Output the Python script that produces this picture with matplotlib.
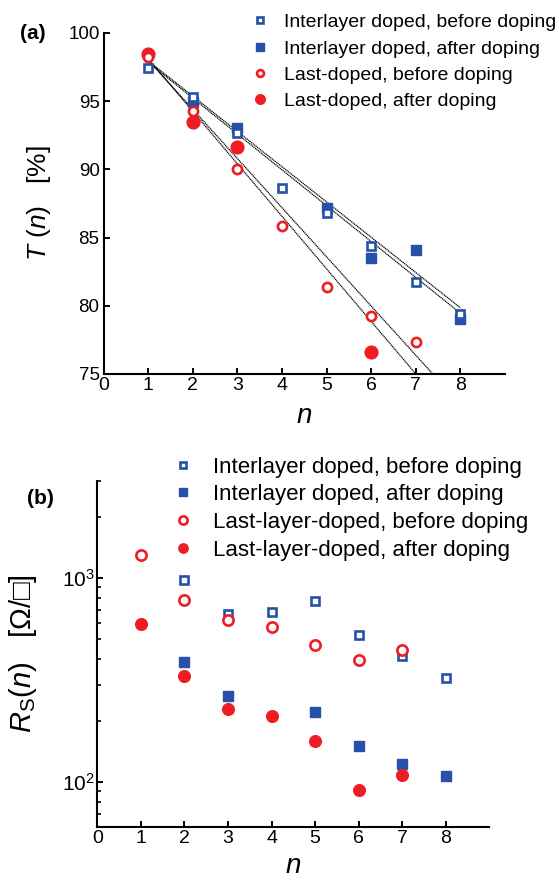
import matplotlib
matplotlib.use('Agg')
import matplotlib.pyplot as plt
from matplotlib.ticker import LogLocator, NullFormatter, FixedLocator

plt.rcParams['font.family'] = ['Liberation Sans', 'DejaVu Sans']
plt.rcParams['mathtext.fontset'] = 'custom'
plt.rcParams['mathtext.rm'] = 'Liberation Sans'
plt.rcParams['mathtext.it'] = 'Liberation Sans:italic'

BLUE = '#2750a8'
RED = '#ee1d23'

# (a) transmittance T(n) [%]
n_il_before = [1, 2, 3, 4, 5, 6, 7, 8]
T_il_before = [97.41, 95.30, 92.65, 88.66, 86.78, 84.38, 81.74, 79.38]
n_il_after = [2, 3, 5, 6, 7, 8]
T_il_after = [94.93, 93.03, 87.17, 83.48, 84.09, 79.03]
n_ll_before = [1, 2, 3, 4, 5, 6, 7]
T_ll_before = [98.22, 94.28, 90.0, 85.87, 81.4, 79.25, 77.37]
n_ll_after = [1, 2, 3, 6]
T_ll_after = [98.44, 93.48, 91.62, 76.59]

# fit lines (endpoints)
fit_il_x = [1, 8]
fit_il_upper = [97.95, 79.85]
fit_il_lower = [97.85, 79.45]
fit_ll_x1 = [1, 7.0]
fit_ll_y1 = [98.1, 75.0]
fit_ll_x2 = [1, 7.38]
fit_ll_y2 = [98.0, 75.0]

# (b) sheet resistance Rs(n) [Ohm/sq]
n_rs_il_before = [2, 3, 4, 5, 6, 7, 8]
rs_il_before = [976, 669, 679, 768, 523, 414, 325]
n_rs_il_after = [2, 3, 5, 6, 7, 8]
rs_il_after = [389, 265, 220, 151, 123, 107]
n_rs_ll_before = [1, 2, 3, 4, 5, 6, 7]
rs_ll_before = [1297, 777, 621, 574, 470, 398, 443]
n_rs_ll_after = [1, 2, 3, 4, 5, 6, 7]
rs_ll_after = [598, 330, 229, 211, 159, 91.4, 108]

labels_a = ['Interlayer doped, before doping', 'Interlayer doped, after doping',
            'Last-doped, before doping', 'Last-doped, after doping']
labels_b = ['Interlayer doped, before doping', 'Interlayer doped, after doping',
            'Last-layer-doped, before doping', 'Last-layer-doped, after doping']

fig = plt.figure(figsize=(5.59, 8.82), dpi=100)

def style_axes(ax):
	for s in ('top', 'right'):
		ax.spines[s].set_visible(False)
	for s in ('left', 'bottom'):
		ax.spines[s].set_linewidth(1.5)
	ax.tick_params(which='major', direction='in', length=4.5, width=1.4, labelsize=14, pad=2)
	ax.tick_params(which='minor', direction='in', length=3, width=1.2)

# ---- panel (a)
ax = fig.add_axes([0.1855, 0.5760, 0.7179, 0.3866])
for xs, ys in ((fit_il_x, fit_il_upper), (fit_il_x, fit_il_lower), (fit_ll_x1, fit_ll_y1), (fit_ll_x2, fit_ll_y2)):
	ax.plot(xs, ys, color='k', lw=0.9, ls=(0, (1, 0.5)), zorder=1)
h2, = ax.plot(n_il_after, T_il_after, 's', ms=7, color=BLUE, mec=BLUE, zorder=3)
h1, = ax.plot(n_il_before, T_il_before, 's', ms=5.2, mfc='white', mec=BLUE, mew=1.9, zorder=4)
h4, = ax.plot(n_ll_after, T_ll_after, 'o', ms=9.2, color=RED, mec=RED, zorder=5)
h3, = ax.plot(n_ll_before, T_ll_before, 'o', ms=6.6, mfc='white', mec=RED, mew=1.9, zorder=6)
ax.set_xlim(0, 9)
ax.set_ylim(75, 100)
ax.set_xticks(range(0, 9))
ax.set_yticks(range(75, 101, 5))
style_axes(ax)
ax.tick_params(axis='y', labelsize=13.5, pad=3)
ax.set_xlabel('$n$', fontsize=20, labelpad=7)
ax.set_ylabel('$T$ ($n$)   [%]', fontsize=19, labelpad=11)
ax.legend([h1, h2, h3, h4], labels_a, loc='upper left', bbox_to_anchor=(0.423, 1.0),
	bbox_transform=fig.transFigure, frameon=False, fontsize=14, markerscale=0.75,
	handlelength=1.0, handletextpad=0.75, labelspacing=0.45, borderpad=0.2)
fig.text(0.035, 0.962, '(a)', fontsize=15, fontweight='bold', va='center')

# ---- panel (b)
bx = fig.add_axes([0.1741, 0.0620, 0.7013, 0.3930])
g2, = bx.plot(n_rs_il_after, rs_il_after, 's', ms=6.8, color=BLUE, mec=BLUE, zorder=3)
g1, = bx.plot(n_rs_il_before, rs_il_before, 's', ms=6.0, mfc='white', mec=BLUE, mew=1.9, zorder=4)
g4, = bx.plot(n_rs_ll_after, rs_ll_after, 'o', ms=8.4, color=RED, mec=RED, zorder=5)
g3, = bx.plot(n_rs_ll_before, rs_ll_before, 'o', ms=7.4, mfc='white', mec=RED, mew=1.9, zorder=6)
bx.set_yscale('log')
bx.set_xlim(0, 9)
bx.set_ylim(60, 3000)
bx.set_xticks(range(0, 9))
bx.yaxis.set_major_locator(FixedLocator([100, 1000]))
bx.set_yticklabels(['10$^2$', '10$^3$'])
bx.yaxis.set_minor_locator(LogLocator(base=10, subs=range(2, 10), numticks=20))
bx.yaxis.set_minor_formatter(NullFormatter())
style_axes(bx)
bx.tick_params(axis='y', labelsize=15)
bx.set_xlabel('$n$', fontsize=20, labelpad=4)
bx.set_ylabel('$R_{\\mathrm{S}}$($n$)   [Ω/□]', fontsize=21, labelpad=16)
bx.legend([g1, g2, g3, g4], labels_b, loc='upper left', bbox_to_anchor=(0.279, 0.5),
	bbox_transform=fig.transFigure, frameon=False, fontsize=16, markerscale=0.8,
	handlelength=1.0, handletextpad=0.85, labelspacing=0.3, borderpad=0.2)
fig.text(0.048, 0.435, '(b)', fontsize=15, fontweight='bold', va='center')

fig.savefig('out.png', dpi=100)
